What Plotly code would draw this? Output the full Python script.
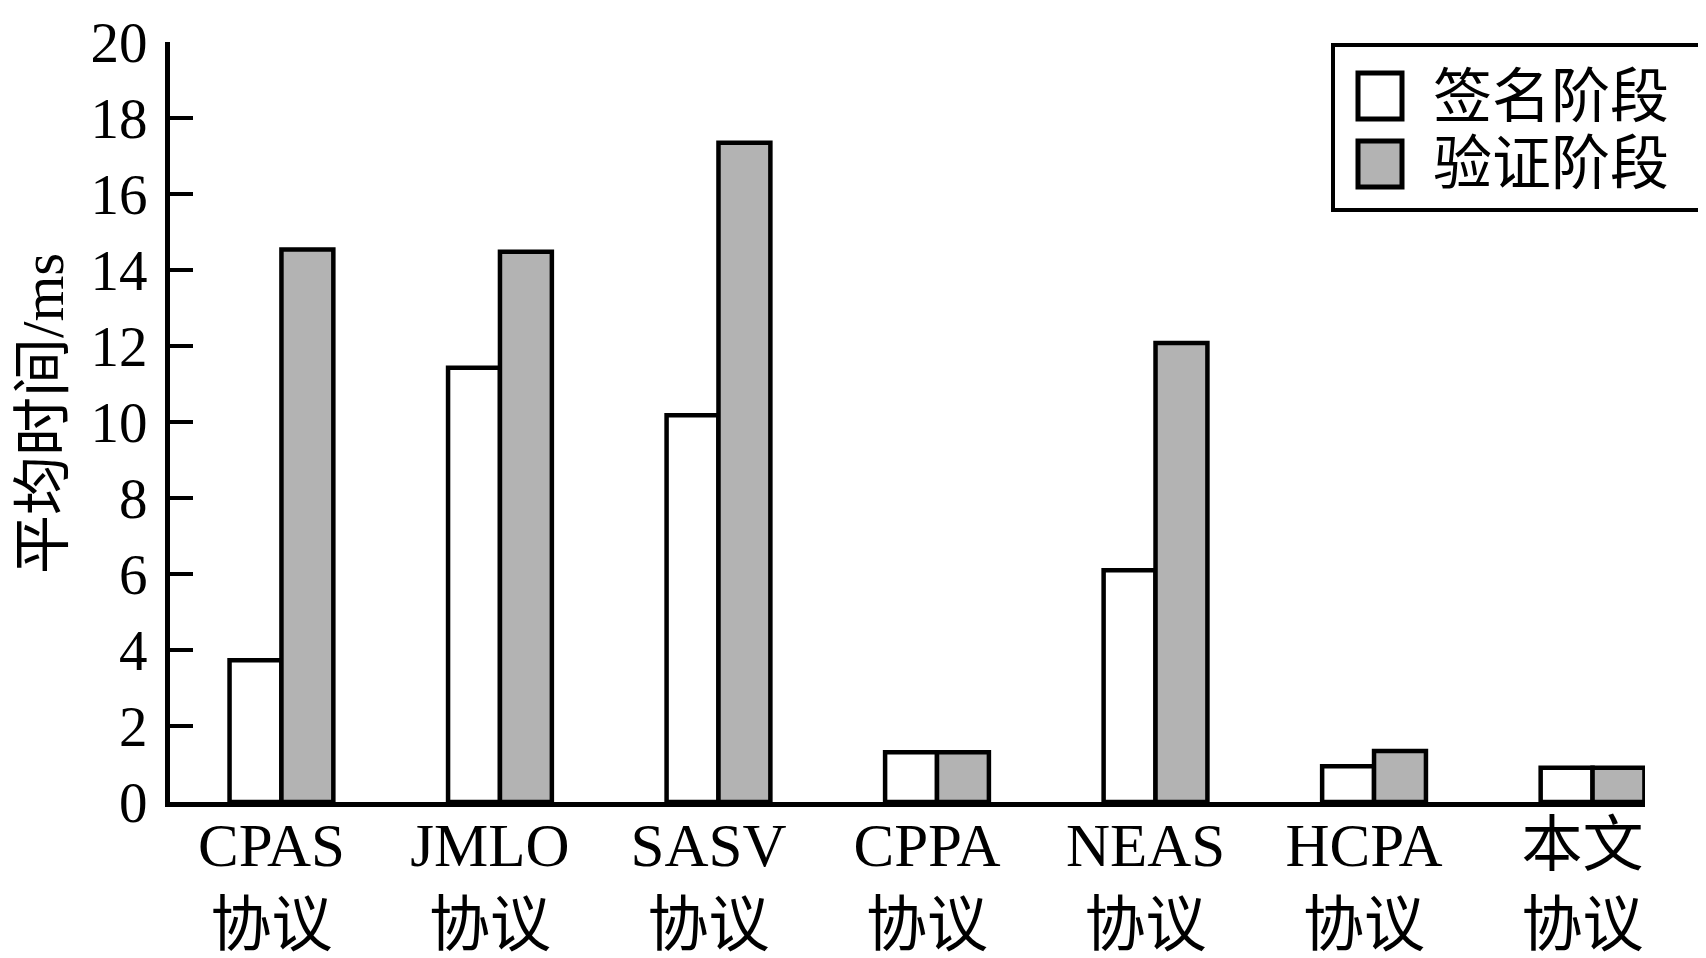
import plotly.graph_objects as go

categories = ["CPAS<br>协议", "JMLO<br>协议", "SASV<br>协议", "CPPA<br>协议",
              "NEAS<br>协议", "HCPA<br>协议", "本文<br>协议"]
sign_values = [3.73, 11.43, 10.18, 1.31, 6.10, 0.94, 0.90]
verify_values = [14.54, 14.48, 17.35, 1.31, 12.08, 1.34, 0.90]
series_names = ["签名阶段", "验证阶段"]
series_colors = ["#ffffff", "#b3b3b3"]
y_ticks = [0, 2, 4, 6, 8, 10, 12, 14, 16, 18, 20]
y_title = "平均时间/ms"

# page offset of the figure (default body margin)
OFF = 8
W, H = 1706 - OFF, 958 - OFF
# target plot area in page pixels
P_LEFT, P_RIGHT, P_TOP, P_BOTTOM = 170, 1645, 42, 802
ML, MT = P_LEFT - OFF, P_TOP - OFF
MR, MB = W - (P_RIGHT - OFF), H - (P_BOTTOM - OFF)
PW, PH = P_RIGHT - P_LEFT, P_BOTTOM - P_TOP
FONT = "Liberation Serif, Times New Roman, Noto Sans CJK SC, serif"


def px(x):
    return (x - P_LEFT) / PW


def py(y):
    return (P_BOTTOM - y) / PH


fig = go.Figure()
for name, vals, col in zip(series_names, [sign_values, verify_values], series_colors):
    fig.add_trace(go.Bar(
        x=categories, y=vals, name=name,
        marker=dict(color=col, line=dict(color="black", width=4.5)),
        showlegend=False,
    ))

shapes = [
    dict(type="rect", xref="paper", yref="paper",
         x0=px(1333), x1=px(1700), y0=py(210), y1=py(45),
         line=dict(color="black", width=4), fillcolor="white", layer="above"),
]
annotations = []
rows = [(73, 119, 97), (141, 187, 164)]
for (t, b, c), name, col in zip(rows, series_names, series_colors):
    shapes.append(dict(type="rect", xref="paper", yref="paper",
                       x0=px(1358), x1=px(1402), y0=py(b), y1=py(t),
                       line=dict(color="black", width=5), fillcolor=col, layer="above"))
    annotations.append(dict(xref="paper", yref="paper", x=px(1431), y=py(c),
                            xanchor="left", yanchor="middle", showarrow=False,
                            text=name, font=dict(family=FONT, size=59, color="black")))

annotations.append(dict(xref="paper", yref="paper", x=px(43), y=py(414),
                        xanchor="center", yanchor="middle", showarrow=False,
                        textangle=-90, text=y_title,
                        font=dict(family=FONT, size=59, color="black")))

fig.update_layout(
    template="none",
    width=W, height=H, autosize=False,
    margin=dict(l=ML, r=MR, t=MT, b=MB, pad=0, autoexpand=False),
    paper_bgcolor="white", plot_bgcolor="white",
    barmode="group", bargap=0.525, bargroupgap=0,
    font=dict(family=FONT, color="black"),
    shapes=shapes, annotations=annotations,
    showlegend=False,
)
fig.update_xaxes(
    type="category", range=[-0.51, 6.24], automargin=False,
    showline=True, linewidth=5, linecolor="black",
    ticks="", showgrid=False, zeroline=False,
    ticklabelstandoff=-14, ticklabelshift=-10,
    tickfont=dict(family=FONT, size=61, color="black"),
)
fig.update_yaxes(
    range=[0, 20], tickmode="array", tickvals=y_ticks, automargin=False,
    showline=True, linewidth=5, linecolor="black",
    ticks="inside", ticklen=23, tickwidth=4, tickcolor="black",
    showgrid=False, zeroline=False, ticklabelstandoff=6,
    tickfont=dict(family=FONT, size=57, color="black"),
)

fig.write_html("out.html")
